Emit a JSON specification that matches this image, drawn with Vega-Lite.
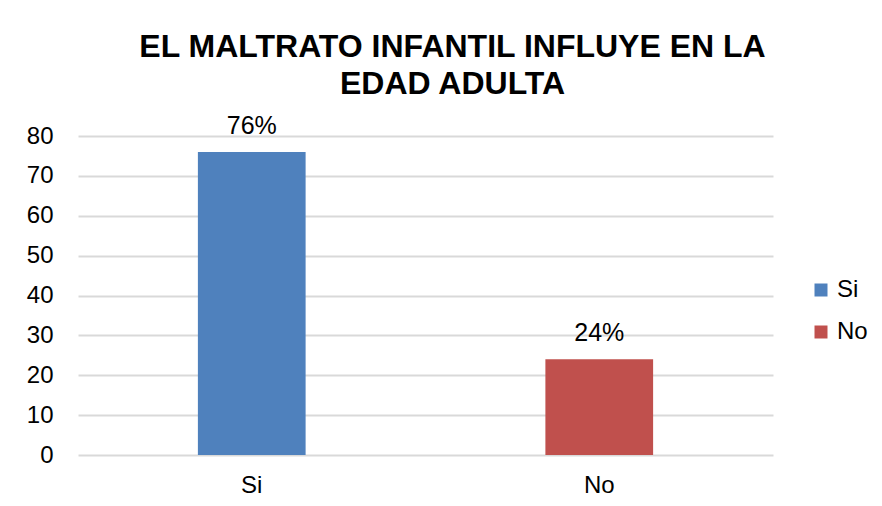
{
  "$schema": "https://vega.github.io/schema/vega-lite/v6.json",
  "width": 695,
  "height": 319,
  "autosize": {"type": "none"},
  "padding": {"left": 78, "top": 136, "right": 109, "bottom": 51},
  "background": "white",
  "title": {
    "text": ["EL MALTRATO INFANTIL INFLUYE EN LA", "EDAD ADULTA"],
    "font": "Liberation Sans",
    "fontSize": 32,
    "fontWeight": "bold",
    "color": "#000000",
    "lineHeight": 37,
    "anchor": "middle",
    "frame": "group",
    "dx": 27,
    "offset": 13
  },
  "data": {
    "values": [
      {"categoria": "Si", "valor": 76, "etiqueta": "76%"},
      {"categoria": "No", "valor": 24, "etiqueta": "24%"}
    ]
  },
  "encoding": {
    "x": {
      "field": "categoria",
      "type": "nominal",
      "sort": ["Si", "No"],
      "scale": {"paddingInner": 0.69, "paddingOuter": 0.345},
      "axis": {
        "title": null,
        "labelAngle": 0,
        "labelFont": "Liberation Sans",
        "labelFontSize": 24,
        "labelColor": "#000000",
        "labelPadding": 18,
        "ticks": false,
        "domain": false
      }
    },
    "y": {
      "field": "valor",
      "type": "quantitative",
      "scale": {"domain": [0, 80], "nice": false},
      "axis": {
        "title": null,
        "values": [0, 10, 20, 30, 40, 50, 60, 70, 80],
        "labelFont": "Liberation Sans",
        "labelFontSize": 24,
        "labelColor": "#000000",
        "labelPadding": 25,
        "ticks": false,
        "domain": false,
        "grid": true,
        "gridColor": "#d9d9d9",
        "gridWidth": 2
      }
    }
  },
  "layer": [
    {
      "mark": {"type": "bar"},
      "encoding": {
        "color": {
          "field": "categoria",
          "type": "nominal",
          "sort": ["Si", "No"],
          "scale": {"domain": ["Si", "No"], "range": ["#4F81BD", "#C0504D"]},
          "legend": {
            "title": null,
            "orient": "none",
            "legendX": 731,
            "legendY": 142,
            "symbolType": "square",
            "symbolSize": 169,
            "symbolStrokeWidth": 0,
            "labelFont": "Liberation Sans",
            "labelFontSize": 24,
            "labelColor": "#000000",
            "labelOffset": 4,
            "rowPadding": 18
          }
        }
      }
    },
    {
      "mark": {
        "type": "text",
        "baseline": "alphabetic",
        "dy": -18,
        "font": "Liberation Sans",
        "fontSize": 25,
        "color": "#000000"
      },
      "encoding": {"text": {"field": "etiqueta"}}
    }
  ],
  "config": {"view": {"stroke": null}}
}
